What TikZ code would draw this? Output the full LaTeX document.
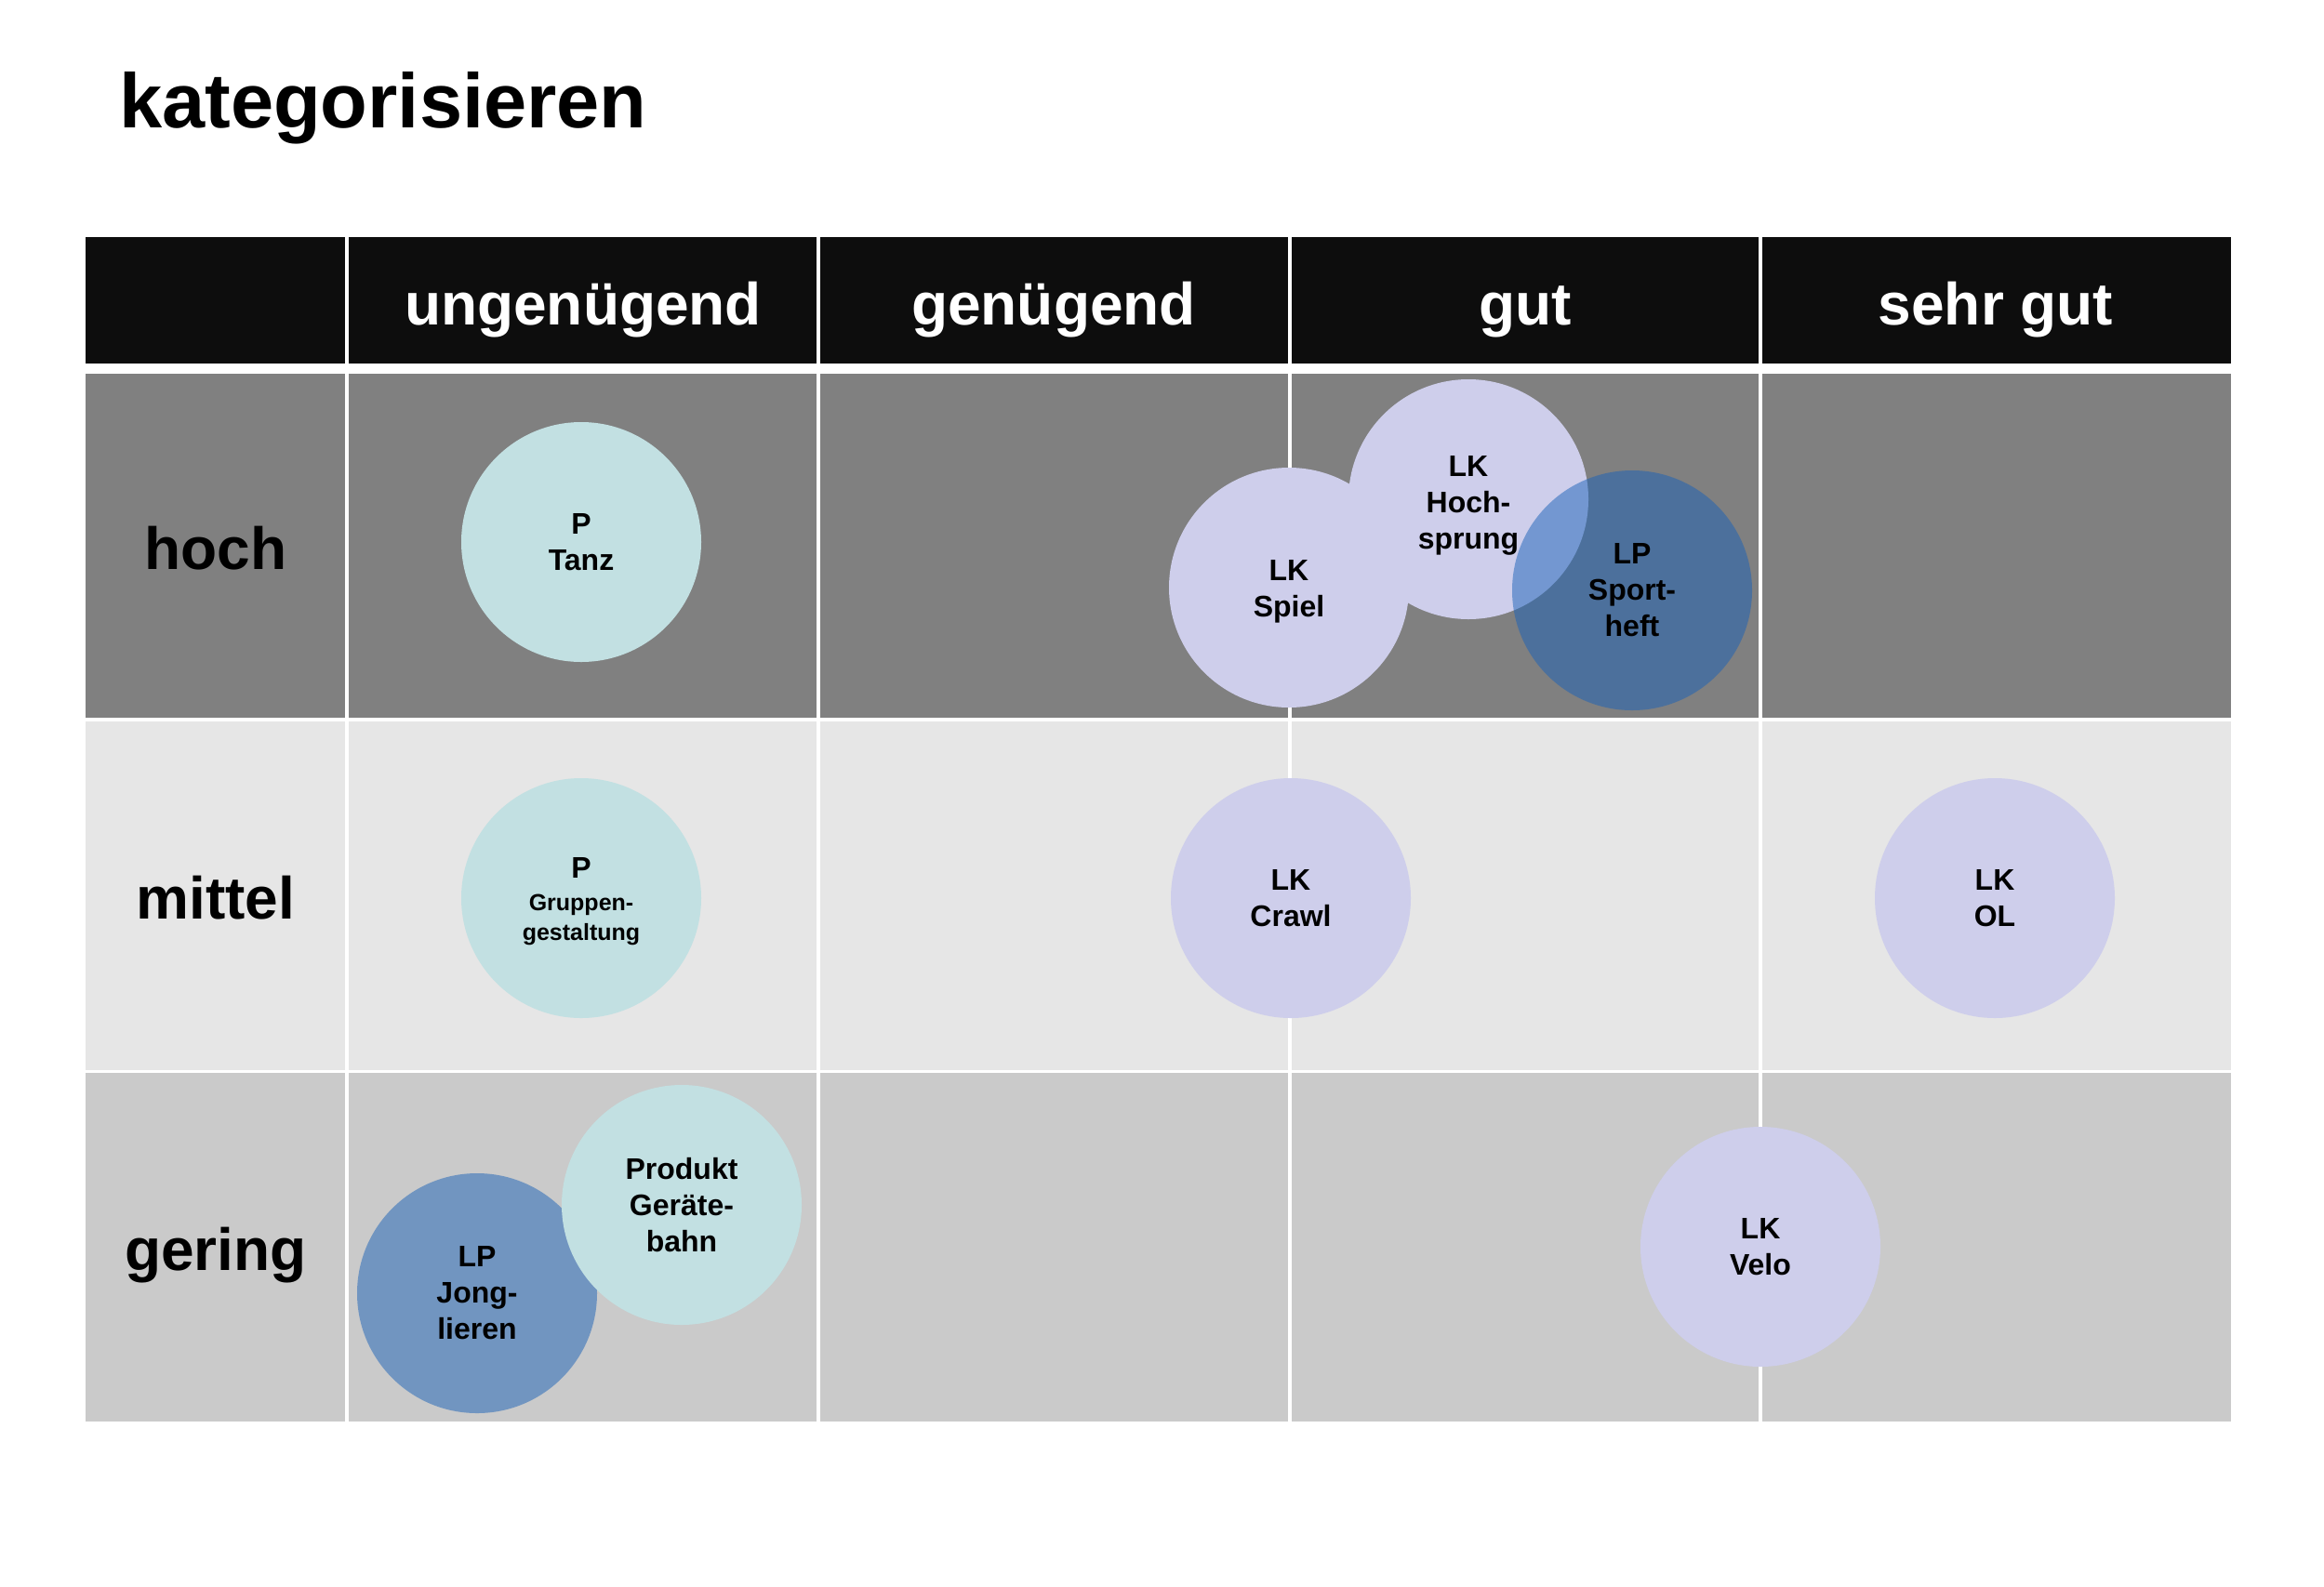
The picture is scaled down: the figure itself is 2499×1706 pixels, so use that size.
\documentclass[tikz,border=0pt]{standalone}
\usepackage{fontspec}
\setmainfont{Liberation Sans}
\definecolor{hdr}{RGB}{13,13,13}
\definecolor{rowA}{RGB}{128,128,128}
\definecolor{rowB}{RGB}{230,230,230}
\definecolor{rowC}{RGB}{202,202,202}
\definecolor{lav}{RGB}{206,206,235}
\definecolor{teal}{RGB}{194,224,226}
\definecolor{lpblue}{RGB}{26,98,184}
\begin{document}
\begin{tikzpicture}[x=1pt,y=-1pt,
  bub/.style={circle,minimum size=258pt,inner sep=0pt,align=center,
    font=\fontsize{32}{39}\selectfont\bfseries,text=black},
  lk/.style={bub,fill=lav},
  pp/.style={bub,fill=teal},
  lp/.style={bub,fill=lpblue,fill opacity=0.5,text opacity=1},
  hdrtxt/.style={anchor=base,text=white,font=\fontsize{64}{70}\selectfont\bfseries,inner sep=0pt},
  rowtxt/.style={anchor=base,text=black,font=\fontsize{64}{70}\selectfont\bfseries,inner sep=0pt},
  gridline/.style={draw=white,line width=4pt}]
\useasboundingbox (0,0) rectangle (2499,1706);
\fill[white] (0,0) rectangle (2499,1706);
% title
\node[anchor=base west,inner sep=0pt,font=\fontsize{83}{90}\selectfont\bfseries] (title) at (128,137) {kategorisieren};
% rows
\fill[hdr]  (92,255) rectangle (2399,391);
\fill[rowA] (92,402) rectangle (2399,772);
\fill[rowB] (92,772) rectangle (2399,1152);
\fill[rowC] (92,1152) rectangle (2399,1529);
% grid lines
\draw[gridline] (92,774) -- (2399,774);
\draw[gridline,line width=3pt] (92,1152.5) -- (2399,1152.5);
\foreach \x in {373,880,1387,1893} {\draw[gridline] (\x,255) -- (\x,1529);}
% headers
\node[hdrtxt] (h1) at (627,349) {ungenügend};
\node[hdrtxt] (h2) at (1133,349) {genügend};
\node[hdrtxt] (h3) at (1640,349) {gut};
\node[hdrtxt] (h4) at (2146,349) {sehr gut};
% row labels
\node[rowtxt] (r1) at (232,612) {hoch};
\node[rowtxt] (r2) at (232,988) {mittel};
\node[rowtxt] (r3) at (232,1366) {gering};
% bubbles
\node[pp] (tanz) at (625,583) {P\\Tanz};
\node[lk] (hoch) at (1579,537) {\rule{0pt}{36pt}LK\\Hoch-\\sprung};
\node[lk] (spiel) at (1386,632) {\rule{0pt}{31pt}LK\\Spiel};
\node[lp] (sport) at (1755,635) {LP\\Sport-\\heft};
\node[pp,font=\fontsize{25}{32}\selectfont\bfseries] (grp) at (625,966) {{\fontsize{32}{30}\selectfont\rule{0pt}{30pt}P}\\[3pt]Gruppen-\\gestaltung};
\node[lk] (crawl) at (1388,966) {LK\\Crawl};
\node[lk] (ol) at (2145,966) {LK\\OL};
\node[lp] (jong) at (513,1391) {LP\\Jong-\\lieren};
\node[pp] (geraet) at (733,1296) {Produkt\\Geräte-\\bahn};
\node[lk] (velo) at (1893,1341) {LK\\Velo};
\end{tikzpicture}
\end{document}
